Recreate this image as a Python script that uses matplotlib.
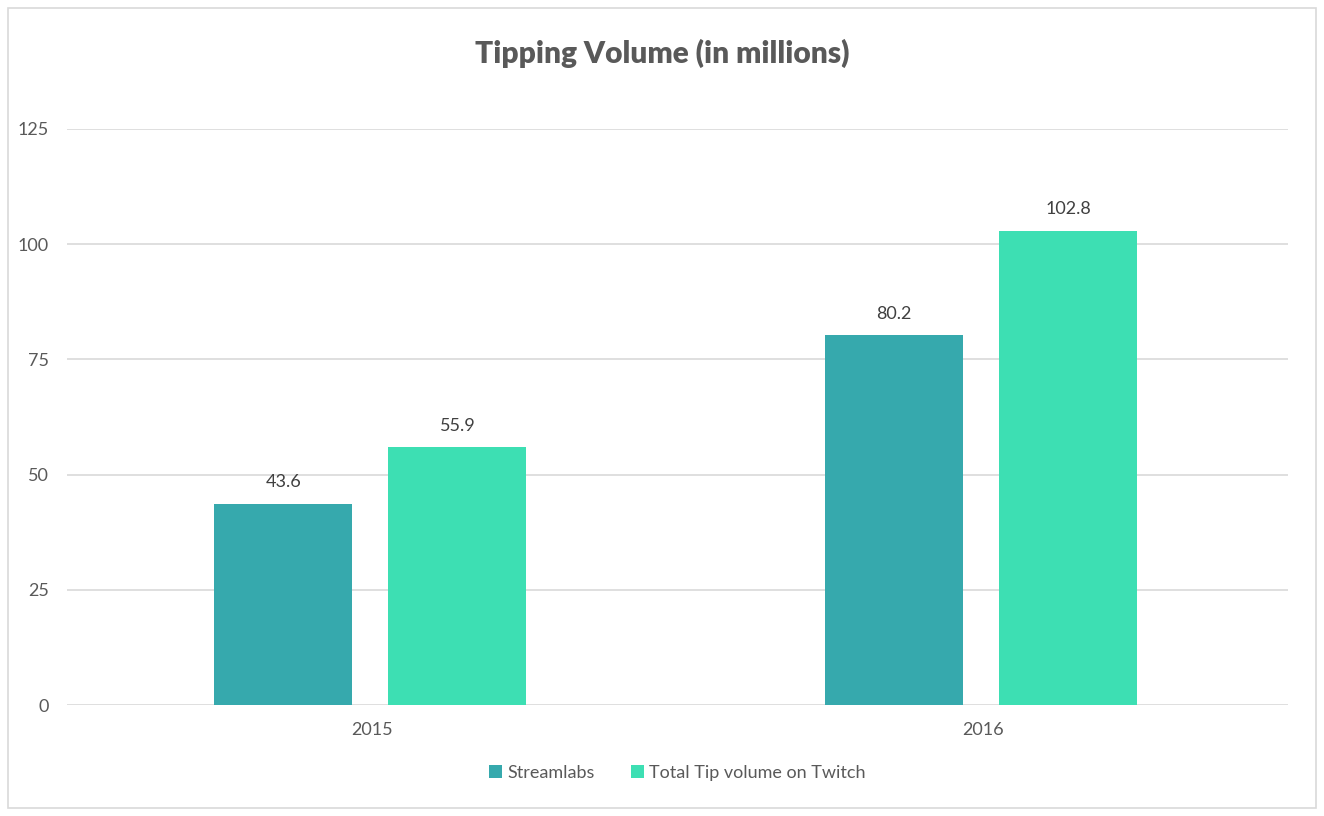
import matplotlib.pyplot as plt
from matplotlib.patches import Rectangle
import numpy as np

plt.rcParams['font.family'] = ['Lato', 'DejaVu Sans']

# Data
years = ['2015', '2016']
streamlabs = [43.6, 80.2]
twitch_total = [55.9, 102.8]
series_names = ['Streamlabs', 'Total Tip volume on Twitch']
colors = ['#36A9AD', '#3DDFB3']
text_color = '#595959'

fig = plt.figure(figsize=(13.24, 8.16), dpi=100)
ax = fig.add_axes([0.0506, 0.136, 0.9222, 0.706])

# outer chart border
fig.patches.append(Rectangle((0.006, 0.01), 0.988, 0.98, transform=fig.transFigure,
                             fill=False, edgecolor='#D9D9D9', linewidth=1.2))

x = np.arange(len(years))
width = 0.226
offset = 0.1425
shift = -0.003

bars1 = ax.bar(x - offset + shift, streamlabs, width, color=colors[0], label=series_names[0], zorder=3)
bars2 = ax.bar(x + offset + shift, twitch_total, width, color=colors[1], label=series_names[1], zorder=3)

for bars in (bars1, bars2):
    for b in bars:
        ax.annotate(f'{b.get_height():.1f}', (b.get_x() + b.get_width() / 2, b.get_height()),
                    xytext=(0, 10), textcoords='offset points', ha='center', va='bottom',
                    fontsize=13, color='#404040')

ax.set_xlim(-0.5, 1.5)
ax.set_ylim(0, 125)
ax.set_yticks([0, 25, 50, 75, 100, 125])
ax.set_xticks(x)
ax.set_xticklabels(years)
ax.tick_params(axis='both', length=0, labelsize=13, labelcolor=text_color)
ax.tick_params(axis='y', pad=13)
ax.tick_params(axis='x', pad=12)
ax.grid(axis='y', color='#D9D9D9', linewidth=1.2, zorder=0)
for s in ax.spines.values():
    s.set_visible(False)

fig.text(0.5, 0.935, 'Tipping Volume (in millions)', ha='center', va='center',
         fontsize=21.5, fontweight='heavy', color=text_color)

leg = ax.legend(loc='center', bbox_to_anchor=(0.5, -0.118), ncol=2, frameon=False,
                fontsize=13, handlelength=0.7, handleheight=0.7, handletextpad=0.3,
                columnspacing=2.0)
for t in leg.get_texts():
    t.set_color(text_color)

fig.savefig('out.png', dpi=100)
